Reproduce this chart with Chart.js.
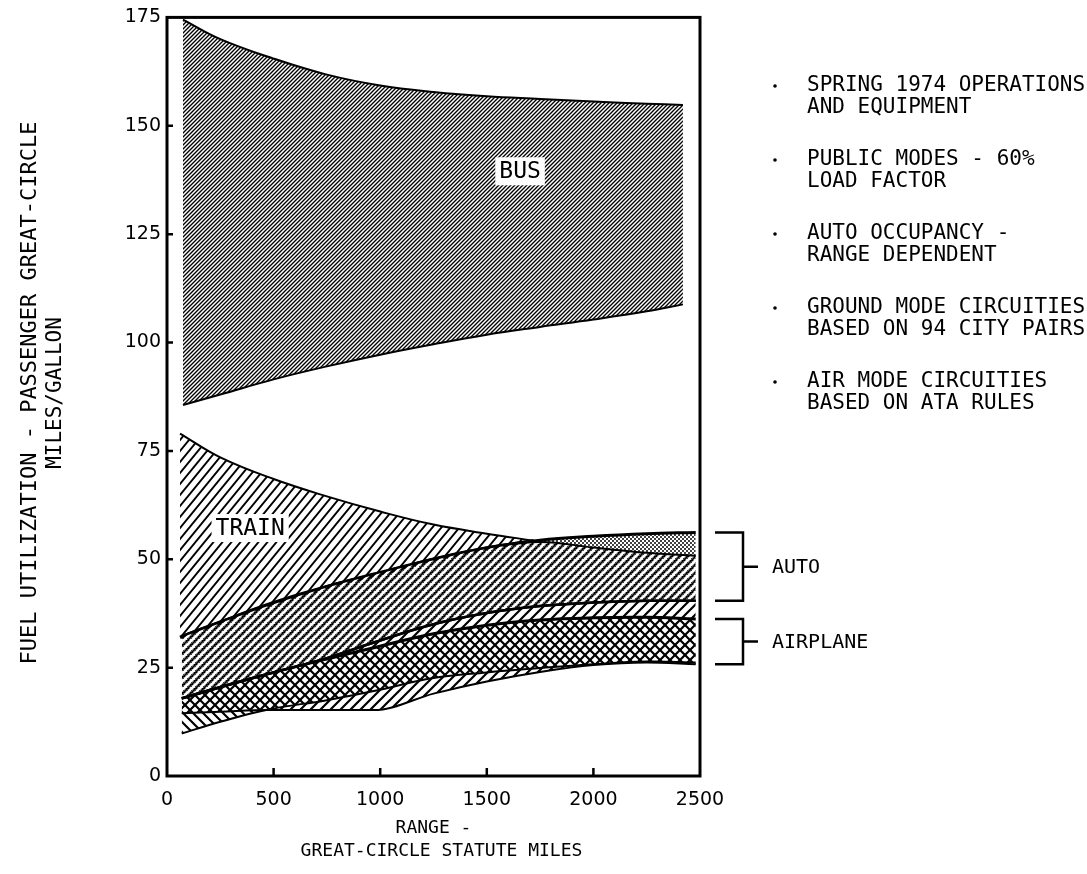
<!DOCTYPE html>
<html><head><meta charset="utf-8">
<script src="https://cdn.jsdelivr.net/npm/chart.js@4.4.1/dist/chart.umd.min.js"></script>
<style>html,body{margin:0;padding:0;background:#fff}canvas{display:block}</style>
</head><body>
<canvas id="c" width="1087" height="874"></canvas>
<script>
// ---------- data ----------
const busX      = [75, 250, 500, 750, 1000, 1250, 1500, 1750, 2000, 2250, 2420];
const busLow    = [85.6, 88, 91.5, 94.5, 97.2, 99.6, 101.8, 103.6, 105.3, 107.2, 108.8];
const busHigh   = [174.5, 170, 165.5, 161.8, 159.3, 157.8, 156.8, 156.2, 155.6, 155.1, 154.8];

const trainX    = [61, 250, 500, 750, 1000, 1250, 1500, 1720];
const trainLow  = [32, 35.5, 40, 43.7, 46.6, 50, 52.6, 54.2];
const trainHigh = [79, 73.5, 68.5, 64.5, 61, 58, 55.9, 54.3];

const modeX     = [69, 250, 470, 750, 970, 1250, 1500, 1750, 2000, 2250, 2480];
const airLowA   = [14.5, 14.8, 15.2, 15.2, 15.2, 19, 21.8, 24, 25.6, 26.2, 25.8];
const airHighA  = [17.9, 20.5, 23.5, 27.2, 30.8, 35, 37.6, 39.2, 40, 40.4, 40.4];
const airLowB   = [9.8, 12.5, 15.3, 17.5, 19.6, 22.6, 23.9, 24.9, 25.8, 26.4, 26.2];
const airHighB  = [17.9, 20.5, 23.5, 27, 29.6, 32.8, 34.8, 36, 36.5, 36.6, 36.2];
const autoMid   = [32.2, 35.5, 39.4, 43.7, 46.6, 50, 52.6, 54, 52.7, 51.5, 50.8];
const autoTop   = [32.2, 35.5, 39.4, 43.7, 46.6, 50, 52.6, 54.4, 55.3, 55.9, 56.2];

const xTicks = [0, 500, 1000, 1500, 2000, 2500];
const yTicks = [0, 25, 50, 75, 100, 125, 150, 175];

const bandLabels = [
  {text: 'BUS',   x: 1656, y: 139.5},
  {text: 'TRAIN', x: 390,  y: 57.2}
];
const notes = [
  ['SPRING 1974 OPERATIONS', 'AND EQUIPMENT'],
  ['PUBLIC MODES - 60%', 'LOAD FACTOR'],
  ['AUTO OCCUPANCY -', 'RANGE DEPENDENT'],
  ['GROUND MODE CIRCUITIES', 'BASED ON 94 CITY PAIRS'],
  ['AIR MODE CIRCUITIES', 'BASED ON ATA RULES']
];
const yTitle = ['FUEL UTILIZATION - PASSENGER GREAT-CIRCLE', 'MILES/GALLON'];
const xTitle = ['RANGE -', 'GREAT-CIRCLE STATUTE MILES'];

// ---------- patterns ----------
const canvas = document.getElementById('c');
const mainCtx = canvas.getContext('2d');
function makeTile(w, h){ const t=document.createElement('canvas'); t.width=w; t.height=h||w; return t; }
function tileLines(g, w, h, dir, off, lw, color){
  g.strokeStyle=color; g.lineWidth=lw; g.beginPath();
  const ex = w/h;
  for (let k=-1;k<=1;k++){
    const o=k*w+off;
    if (dir>0){ g.moveTo(o-ex, h+1); g.lineTo(o+w+ex, -1); }
    else { g.moveTo(o-ex, -1); g.lineTo(o+w+ex, h+1); }
  }
  g.stroke();
}
function hatch(w, h, lw, dir){
  const t=makeTile(w,h), g=t.getContext('2d');
  tileLines(g, w, h, dir, 0, lw, '#000');
  return mainCtx.createPattern(t,'repeat');
}
function stipple(){
  const s=4, t=makeTile(s), g=t.getContext('2d');
  g.fillStyle='#000';
  g.beginPath(); g.arc(1,1,1.0,0,Math.PI*2); g.arc(3,3,1.0,0,Math.PI*2); g.fill();
  return mainCtx.createPattern(t,'repeat');
}
function dottedHatch(){
  const s=8, t=makeTile(s), g=t.getContext('2d');
  g.fillStyle='#000';
  for (let i=0;i<s;i+=2) for (let j=0;j<s;j+=2){ g.beginPath(); g.arc(i+((j/2)%2)+0.5, j+0.5, 0.9, 0, Math.PI*2); g.fill(); }
  tileLines(g, s, s, 1, 0, 2.4, '#fff');
  tileLines(g, s, s, 1, 4, 1.4, '#000');
  return mainCtx.createPattern(t,'repeat');
}
const busPat   = hatch(4, 4, 1.35, 1);
const trainPat = hatch(9, 11, 1.9, 1);
const airPatA  = hatch(10, 10, 2.2, 1);
const airPatB  = hatch(10, 10, 2.2, -1);
const autoPat  = dottedHatch();
const dotPat   = stipple();

function pts(xs, ys){ return xs.map((x,i)=>({x:x, y:ys[i]})); }
function ds(label, xs, ys, extra){
  return Object.assign({label:label, data:pts(xs,ys), borderColor:'#000', borderWidth:2,
    pointRadius:0, fill:false, tension:0.4}, extra||{});
}

const MONO = '"DejaVu Sans Mono", monospace';

const decor = {
  id:'decor',
  afterDatasetsDraw(chart){
    const {ctx, scales:{x, y}} = chart;
    ctx.save();
    ctx.font = '23px ' + MONO;
    ctx.textAlign='center'; ctx.textBaseline='middle';
    bandLabels.forEach(l=>{
      const px=x.getPixelForValue(l.x), py=y.getPixelForValue(l.y);
      const w=ctx.measureText(l.text).width;
      ctx.fillStyle='#fff'; ctx.fillRect(px-w/2-4, py-14, w+8, 28);
      ctx.fillStyle='#000'; ctx.fillText(l.text, px, py+1);
    });
    ctx.restore();
  },
  afterDraw(chart){
    const {ctx, chartArea:a, scales:{x, y}} = chart;
    ctx.save();
    ctx.strokeStyle='#000'; ctx.fillStyle='#000'; ctx.lineWidth=3;
    ctx.strokeRect(a.left, a.top, a.right-a.left, a.bottom-a.top);
    // inner tick marks
    ctx.lineWidth=2.5; ctx.beginPath();
    xTicks.slice(1,-1).forEach(v=>{ const px=x.getPixelForValue(v); ctx.moveTo(px,a.bottom); ctx.lineTo(px,a.bottom-8); });
    yTicks.slice(1,-1).forEach(v=>{ const py=y.getPixelForValue(v); ctx.moveTo(a.left,py); ctx.lineTo(a.left+6,py); });
    ctx.stroke();
    // brackets
    const last = modeX.length-1;
    const brackets = [
      {text:'AUTO', top:autoTop[last], bot:airHighA[last]},
      {text:'AIRPLANE', top:airHighB[last], bot:airLowA[last]}
    ];
    ctx.font='20px ' + MONO; ctx.textAlign='left'; ctx.textBaseline='middle';
    brackets.forEach(b=>{
      const t=y.getPixelForValue(b.top), bt=y.getPixelForValue(b.bot), m=(t+bt)/2;
      const x0=a.right+15, x1=a.right+43, x2=a.right+58;
      ctx.lineWidth=2.5; ctx.beginPath();
      ctx.moveTo(x0,t); ctx.lineTo(x1,t); ctx.lineTo(x1,bt); ctx.lineTo(x0,bt);
      ctx.moveTo(x1,m); ctx.lineTo(x2,m); ctx.stroke();
      ctx.fillText(b.text, a.right+72, m+1);
    });
    // notes
    ctx.font='21px ' + MONO;
    notes.forEach((n,i)=>{
      const y0 = 86 + i*74;
      ctx.beginPath(); ctx.arc(775, y0, 1.8, 0, Math.PI*2); ctx.fill();
      ctx.fillText(n[0], 807, y0);
      ctx.fillText(n[1], 807, y0+22);
    });
    // axis titles
    ctx.font='18px ' + MONO; ctx.textAlign='center';
    ctx.fillText(xTitle[0], (a.left+a.right)/2, 828);
    ctx.fillText(xTitle[1], (a.left+a.right)/2 + 8, 851);
    ctx.save();
    ctx.translate(30, 393); ctx.rotate(-Math.PI/2);
    ctx.font='22px ' + MONO;
    ctx.fillText(yTitle[0], 0, 0);
    ctx.font='21px ' + MONO;
    ctx.fillText(yTitle[1], 0, 26);
    ctx.restore();
    ctx.restore();
  }
};

new Chart(canvas, {
  type:'line',
  data:{ datasets:[
    ds('Airplane A lower', modeX, airLowA, {cubicInterpolationMode:'monotone'}),
    ds('Airplane A upper', modeX, airHighA, {fill:'-1', backgroundColor:airPatA, borderWidth:2.5}),
    ds('Airplane B lower', modeX, airLowB),
    ds('Airplane B upper', modeX, airHighB, {fill:'-1', backgroundColor:airPatB, borderWidth:3}),
    ds('Auto lower', modeX, airHighA, {borderWidth:2.5}),
    ds('Auto middle', modeX, autoMid, {fill:'-1', backgroundColor:autoPat, borderWidth:2}),
    ds('Auto upper', modeX, autoTop, {fill:'-1', backgroundColor:dotPat, borderWidth:3}),
    ds('Train lower', trainX, trainLow, {borderWidth:3.5}),
    ds('Train upper', trainX, trainHigh, {fill:'-1', backgroundColor:trainPat}),
    ds('Bus lower', busX, busLow),
    ds('Bus upper', busX, busHigh, {fill:'-1', backgroundColor:busPat})
  ]},
  options:{
    responsive:false, animation:false, devicePixelRatio:1,
    layout:{padding:{left:0, right:387, top:17, bottom:0}},
    plugins:{legend:{display:false}, tooltip:{enabled:false}},
    scales:{
      x:{type:'linear', min:0, max:2500,
         afterBuildTicks(s){ s.ticks = xTicks.map(v=>({value:v})); },
         afterFit(s){ s.height = 98; },
         grid:{display:false, drawTicks:false}, border:{display:false},
         ticks:{color:'#000', font:{family:'DejaVu Sans', size:19}, padding:13, maxRotation:0, autoSkip:false,
                callback:v=>String(v)}},
      y:{min:0, max:175,
         afterBuildTicks(s){ s.ticks = yTicks.map(v=>({value:v})); },
         afterFit(s){ s.width = 167; },
         grid:{display:false, drawTicks:false}, border:{display:false},
         ticks:{color:'#000', font:{family:'DejaVu Sans', size:19}, padding:6, autoSkip:false,
                callback:v=>String(v)}}
    }
  },
  plugins:[decor]
});
</script>
</body></html>
